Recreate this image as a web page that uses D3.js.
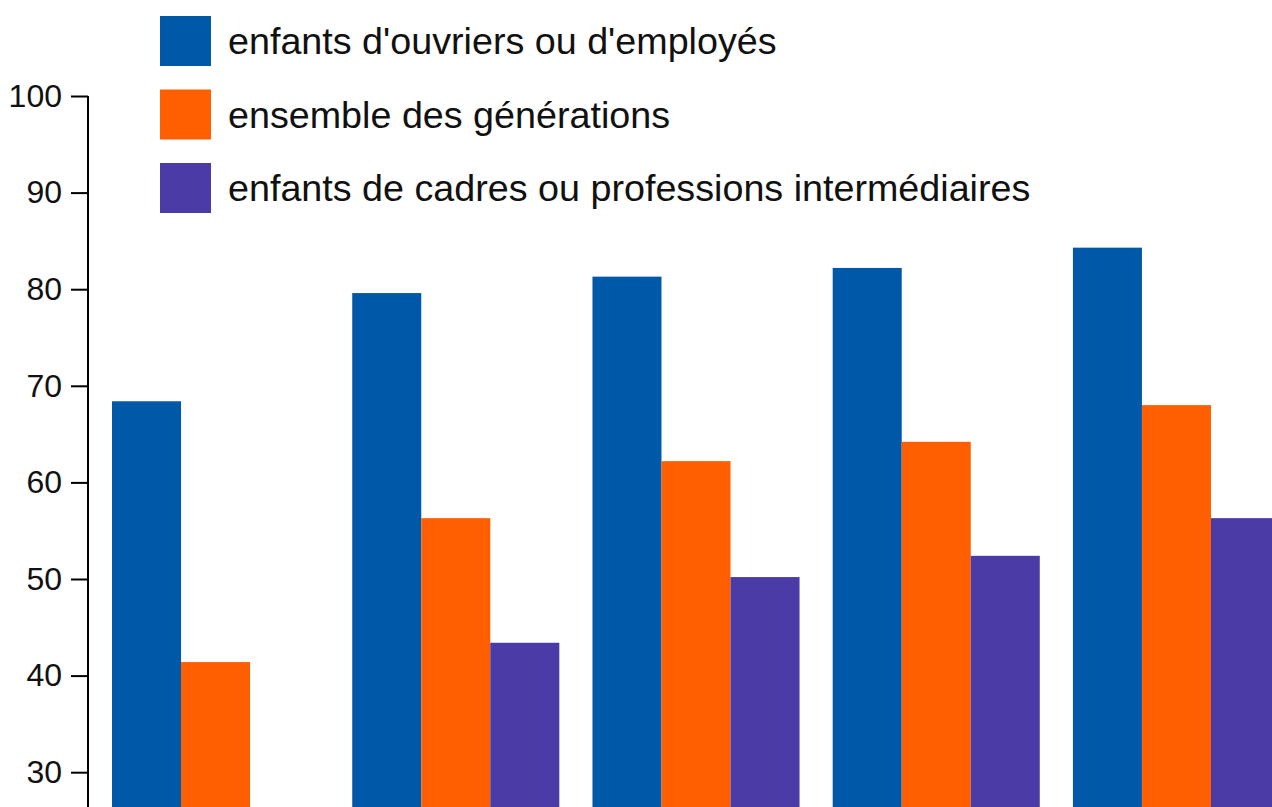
<!DOCTYPE html>
<html>
<head>
<meta charset="utf-8">
<script src="https://cdn.jsdelivr.net/npm/d3@7"></script>
<style>
  html, body { margin: 0; padding: 0; background: #fff; overflow: hidden; }
  svg { display: block; font-family: "Liberation Sans", Arial, sans-serif; }
</style>
</head>
<body>
<div id="chart"></div>
<script>
// categories (axis labels fall below the visible area)
const groups = ["g1", "g2", "g3", "g4", "g5"];
const seriesNames = [
    "enfants d'ouvriers ou d'employés",
    "ensemble des générations",
    "enfants de cadres ou professions intermédiaires"
];
const seriesColors = ["#0059a8", "#ff5f00", "#4a3ba7"];

// values
const ouvriers = [68.4, 79.6, 81.3, 82.2, 84.3];
const ensemble = [41.4, 56.3, 62.2, 64.2, 68.0];
const cadres = [null, 43.4, 50.2, 52.4, 56.3];
const yTicks = [30, 40, 50, 60, 70, 80, 90, 100];

const width = 1272, height = 807;

const svg = d3.select('#chart').append('svg')
    .attr('width', width)
    .attr('height', height);

const y = d3.scaleLinear().domain([0, 100]).range([1062, 96]);

const x0 = d3.scaleBand()
    .domain(groups)
    .range([112, 1280])
    .paddingInner(0.138)
    .paddingOuter(0);

const x1 = d3.scaleBand()
    .domain([0, 1, 2])
    .range([0, x0.bandwidth()]);

const rows = groups.map((g, i) => ({
    group: g,
    values: [ouvriers[i], ensemble[i], cadres[i]]
}));

// bars
const bars = svg.append('g');
rows.forEach(r => {
    bars.selectAll(null)
        .data(r.values.map((v, k) => ({ k, v })).filter(d => d.v != null))
        .enter().append('rect')
        .attr('x', d => x0(r.group) + x1(d.k))
        .attr('y', d => y(d.v))
        .attr('width', x1.bandwidth())
        .attr('height', d => y(0) - y(d.v))
        .attr('fill', d => seriesColors[d.k]);
});

// y axis
const yAxis = svg.append('g')
    .attr('transform', 'translate(88,0)')
    .call(d3.axisLeft(y).tickValues(yTicks).tickSize(17).tickPadding(9));
yAxis.select('.domain').attr('d', `M0,${y(100)}V${height}`).attr('stroke', '#000').attr('stroke-width', 2);
yAxis.selectAll('.tick line').attr('stroke', '#000').attr('stroke-width', 2);
yAxis.selectAll('.tick text')
    .attr('fill', '#111')
    .style('font-size', '32px')
    .style('font-family', '"Liberation Sans", Arial, sans-serif');

// legend
const legend = svg.append('g');
seriesNames.forEach((name, i) => {
    const row = legend.append('g').attr('transform', `translate(160,${16 + i * 73.5})`);
    row.append('rect')
        .attr('width', 51)
        .attr('height', 50)
        .attr('fill', seriesColors[i]);
    row.append('text')
        .attr('x', 68)
        .attr('y', 25)
        .attr('dy', '0.35em')
        .attr('fill', '#111')
        .style('font-size', '37.7px')
        .text(name);
});
</script>
</body>
</html>
